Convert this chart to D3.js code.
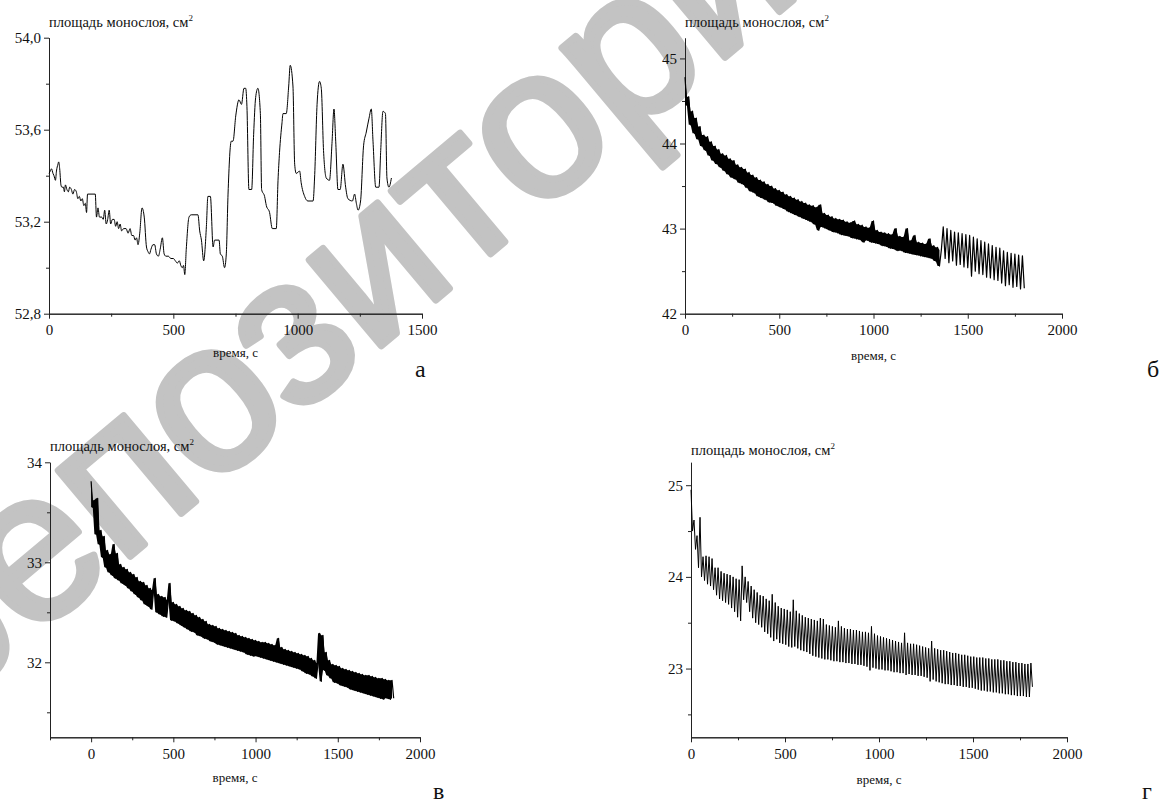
<!DOCTYPE html>
<html>
<head>
<meta charset="utf-8">
<script src="https://cdn.jsdelivr.net/npm/d3@7"></script>
<style>
body { margin: 0; background: #fff; }
svg text { font-family: "Liberation Serif", "Times New Roman", serif; fill: #111; }
</style>
</head>
<body>
<div id="chart"></div>
<script>
// ---- data ----

// panel а : irregular samples (time, s / area, cm2)
var aTime = [0,5,10,16,20,26,30,36,39,43,
  48,52,58,62,66,72,78,83,90,96,
  103,110,116,122,128,134,140,146,151,155,
  186,191,197,203,212,218,224,230,236,242,
  248,255,262,268,274,280,286,292,300,310,
  318,326,333,340,346,352,358,365,374,383,
  392,398,404,410,418,425,432,440,447,456,
  463,470,480,490,500,508,516,524,530,536,
  541,546,552,563,572,599,606,613,622,633,
  639,649,660,666,684,689,697,706,713,720,
  733,740,751,764,774,784,791,796,804,815,
  823,831,840,850,855,867,874,887,898,914,
  921,927,937,941,954,964,970,981,988,994,
  1008,1014,1028,1041,1062,1068,1078,1088,1095,1104,
  1115,1128,1138,1146,1153,1162,1171,1182,1193,1202,
  1220,1229,1236,1243,1253,1265,1276,1287,1296,1303,
  1314,1327,1334,1343,1353,1359,1367,1377];
var aArea = [53.41,53.42,53.43,53.41,53.40,53.38,53.42,53.45,53.46,53.43,
  53.36,53.35,53.35,53.33,53.36,53.34,53.33,53.35,53.34,53.32,
  53.34,53.33,53.30,53.31,53.29,53.30,53.27,53.28,53.24,53.32,
  53.32,53.22,53.26,53.22,53.22,53.21,53.25,53.19,53.21,53.25,
  53.19,53.21,53.21,53.18,53.20,53.17,53.19,53.16,53.17,53.17,
  53.15,53.17,53.14,53.14,53.12,53.13,53.10,53.15,53.26,53.22,
  53.09,53.07,53.06,53.08,53.10,53.10,53.06,53.05,53.08,53.13,
  53.06,53.05,53.05,53.04,53.04,53.03,53.02,53.03,53.01,53.00,
  53.01,52.97,53.08,53.22,53.23,53.23,53.16,53.12,53.03,53.18,
  53.31,53.31,53.09,53.12,53.12,53.06,53.05,53.00,53.06,53.32,
  53.55,53.55,53.66,53.73,53.71,53.78,53.78,53.70,53.34,53.34,
  53.58,53.74,53.78,53.67,53.34,53.31,53.27,53.24,53.17,53.17,
  53.38,53.50,53.63,53.67,53.67,53.79,53.88,53.79,53.45,53.41,
  53.42,53.37,53.31,53.29,53.29,53.39,53.71,53.81,53.78,53.51,
  53.39,53.38,53.54,53.69,53.55,53.34,53.34,53.45,53.35,53.30,
  53.29,53.32,53.28,53.25,53.29,53.53,53.59,53.65,53.69,53.55,
  53.35,53.35,53.51,53.68,53.67,53.39,53.35,53.39];

// panel б : recorder samples every 10 s
var bStep = 10;
var bArea = [44.78,44.45,44.55,44.22,44.38,44.12,44.30,44.05,44.20,43.97,
  44.10,43.92,44.08,43.86,44.02,43.80,43.97,43.76,43.93,43.72,
  43.88,43.68,43.86,43.64,43.82,43.60,43.80,43.58,43.75,43.54,
  43.72,43.52,43.70,43.48,43.66,43.44,43.63,43.42,43.60,43.38,
  43.57,43.36,43.55,43.34,43.52,43.31,43.50,43.30,43.47,43.27,
  43.45,43.25,43.43,43.23,43.40,43.20,43.38,43.18,43.36,43.16,
  43.34,43.14,43.32,43.12,43.30,43.10,43.28,43.08,43.27,43.05,
  43.25,42.98,43.28,43.02,43.18,43.00,43.16,42.98,43.14,42.96,
  43.12,42.95,43.11,42.93,43.10,42.92,43.08,42.91,43.07,42.89,
  43.09,42.88,43.05,42.87,43.04,42.84,43.02,42.86,43.01,42.84,
  43.09,42.83,42.98,42.82,42.96,42.80,42.95,42.79,42.94,42.77,
  42.93,42.76,43.00,42.74,42.91,42.74,42.90,42.72,43.00,42.71,
  42.86,42.70,42.92,42.69,42.84,42.68,42.83,42.67,42.82,42.66,
  42.88,42.65,42.80,42.62,42.78,42.56,42.75,43.02,42.65,43.00,
  42.60,42.98,42.62,42.96,42.57,42.95,42.58,42.94,42.55,42.93,
  42.54,42.92,42.44,42.90,42.50,42.88,42.47,42.86,42.46,42.84,
  42.43,42.82,42.42,42.80,42.40,42.78,42.39,42.77,42.36,42.74,
  42.33,42.72,42.34,42.71,42.31,42.70,42.32,42.69,42.29,42.68,
  42.30];

// panel в : recorder samples every 10 s
var vStep = 10;
var vArea = [33.81,33.55,33.62,33.28,33.64,33.18,33.32,33.05,33.26,32.95,
  33.12,32.90,33.08,32.87,33.18,32.84,33.09,32.82,32.98,32.79,
  32.95,32.77,32.93,32.74,32.90,32.71,32.88,32.68,32.85,32.65,
  32.81,32.62,32.80,32.58,32.77,32.56,32.74,32.53,32.72,32.84,
  32.50,32.68,32.48,32.66,32.46,32.65,32.45,32.62,32.79,32.42,
  32.60,32.41,32.58,32.39,32.56,32.37,32.54,32.35,32.52,32.33,
  32.51,32.31,32.49,32.30,32.47,32.27,32.45,32.26,32.43,32.24,
  32.41,32.23,32.38,32.21,32.37,32.20,32.36,32.18,32.34,32.17,
  32.33,32.16,32.32,32.15,32.31,32.14,32.30,32.13,32.29,32.12,
  32.27,32.11,32.26,32.10,32.25,32.08,32.24,32.07,32.23,32.06,
  32.22,32.06,32.21,32.05,32.20,32.04,32.20,32.03,32.19,32.02,
  32.18,32.01,32.17,32.00,32.24,31.99,32.15,31.98,32.13,31.97,
  32.12,31.96,32.11,31.95,32.10,31.94,32.09,31.93,32.08,31.91,
  32.07,31.89,32.06,31.88,32.04,31.86,32.02,31.84,31.99,32.29,
  31.81,32.27,31.92,32.10,31.87,32.02,31.84,31.98,31.80,31.97,
  31.79,31.96,31.77,31.94,31.76,31.93,31.75,31.92,31.73,31.91,
  31.72,31.90,31.71,31.89,31.70,31.88,31.69,31.87,31.68,31.87,
  31.67,31.86,31.66,31.85,31.65,31.84,31.64,31.84,31.63,31.83,
  31.64,31.82,31.63,31.82,31.64];

// panel г : recorder samples every 8 s
var gStep = 8;
var gArea = [24.95,24.50,24.62,24.30,24.45,24.10,24.65,24.00,24.22,23.96,
  24.23,23.92,24.22,23.90,24.20,23.86,24.10,23.80,24.10,23.76,
  24.06,23.74,24.04,23.72,24.03,23.70,24.02,23.66,24.00,23.62,
  23.98,23.56,23.97,23.52,24.12,23.75,24.00,23.72,23.95,23.62,
  23.90,23.55,23.86,23.50,23.83,23.48,23.80,23.45,23.79,23.40,
  23.76,23.38,23.74,23.34,23.81,23.30,23.72,23.32,23.68,23.28,
  23.66,23.27,23.65,23.26,23.64,23.24,23.62,23.23,23.75,23.24,
  23.63,23.22,23.60,23.20,23.58,23.19,23.56,23.18,23.55,23.16,
  23.54,23.14,23.53,23.13,23.52,23.12,23.55,23.11,23.54,23.10,
  23.48,23.10,23.47,23.09,23.46,23.08,23.45,23.08,23.52,23.07,
  23.46,23.07,23.44,23.06,23.43,23.06,23.43,23.05,23.42,23.05,
  23.42,23.04,23.41,23.04,23.40,23.03,23.40,23.02,23.39,22.98,
  23.46,23.01,23.38,23.00,23.36,22.99,23.35,22.99,23.34,22.98,
  23.33,22.98,23.32,22.97,23.31,22.96,23.30,22.96,23.29,22.95,
  23.28,22.95,23.39,22.93,23.28,22.94,23.27,22.93,23.27,22.93,
  23.26,22.92,23.25,22.92,23.24,22.91,23.23,22.90,23.22,22.86,
  23.30,22.88,23.22,22.86,23.21,22.85,23.20,22.84,23.20,22.83,
  23.19,22.83,23.18,22.82,23.17,22.82,23.17,22.81,23.16,22.81,
  23.15,22.80,23.15,22.80,23.14,22.79,23.13,22.79,23.13,22.78,
  23.12,22.77,23.12,22.76,23.12,22.76,23.11,22.75,23.11,22.75,
  23.10,22.74,23.10,22.74,23.10,22.73,23.09,22.73,23.09,22.72,
  23.08,22.72,23.08,22.71,23.07,22.71,23.07,22.70,23.06,22.70,
  23.06,22.70,23.05,22.69,23.05,22.69,23.06,22.80];

// tick values
var ticksA = {xMajor: [0, 500, 1000, 1500], xMinor: [250, 750, 1250],
  yMajor: [52.8, 53.2, 53.6, 54.0], yMinor: [53.0, 53.4, 53.8]};
var ticksB = {xMajor: [0, 500, 1000, 1500, 2000], xMinor: [250, 750, 1250, 1750],
  yMajor: [42, 43, 44, 45], yMinor: [42.5, 43.5, 44.5]};
var ticksV = {xMajor: [0, 500, 1000, 1500, 2000], xMinor: [-250, 250, 750, 1250, 1750],
  yMajor: [32, 33, 34], yMinor: [31.5, 32.5, 33.5]};
var ticksG = {xMajor: [0, 500, 1000, 1500, 2000], xMinor: [250, 750, 1250, 1750],
  yMajor: [23, 24, 25], yMinor: [22.5, 23.5, 24.5]};

var yTitle = "площадь монослоя, см";
var xTitle = "время, с";

function toPoints(vals, step) {
  return vals.map(function(v, i) { return [i * step, v]; });
}

// neighbouring samples give the envelope of the fast oscillation
function toBand(vals, step, until) {
  var out = [];
  for (var i = 0; i < vals.length - 1; i++) {
    if (i * step > until) break;
    out.push([i * step, Math.min(vals[i], vals[i + 1]), Math.max(vals[i], vals[i + 1])]);
  }
  return out;
}

var panels = [
  {letter: "а", pts: aTime.map(function(t, i) { return [t, aArea[i]]; }), band: null,
   curve: d3.curveMonotoneX, width: 1,
   ticks: ticksA, xDomain: [0, 1500], yDomain: [52.8, 54.0], left: 49, right: 422, top: 37.7, bottom: 313.7,
   yFmt: function(d) { return d3.format(".1f")(d).replace(".", ","); },
   titleY: 27, xTitleY: 357, letterX: 415, letterY: 377},
  {letter: "б", pts: toPoints(bArea, bStep), band: toBand(bArea, bStep, 1350),
   curve: d3.curveLinear, width: 1.2,
   ticks: ticksB, xDomain: [0, 2000], yDomain: [42, 45.24], left: 685, right: 1062, top: 38, bottom: 313.7,
   yFmt: d3.format("d"), titleY: 27, xTitleY: 360, letterX: 1147, letterY: 377},
  {letter: "в", pts: toPoints(vArea, vStep), band: toBand(vArea, vStep, 1840),
   curve: d3.curveLinear, width: 1.2,
   ticks: ticksV, xDomain: [-250, 2000], yDomain: [31.25, 34], left: 50, right: 420, top: 462.3, bottom: 737.3,
   yFmt: d3.format("d"), titleY: 451, xTitleY: 782, letterX: 433, letterY: 799},
  {letter: "г", pts: toPoints(gArea, gStep), band: null,
   curve: d3.curveLinear, width: 1,
   ticks: ticksG, xDomain: [0, 2000], yDomain: [22.25, 25.25], left: 691, right: 1067, top: 462.3, bottom: 737.3,
   yFmt: d3.format("d"), titleY: 455, xTitleY: 784, letterX: 1142, letterY: 799}
];

var svg = d3.select("#chart").append("svg")
    .attr("width", 1163)
    .attr("height", 804);

// grey watermark sits under the plots
svg.append("text")
    .attr("transform", "translate(380,272) rotate(-40)")
    .attr("text-anchor", "middle")
    .attr("dy", "0.27em")
    .style("font-family", "'Liberation Sans', Arial, sans-serif")
    .style("font-size", "212px")
    .style("fill", "#c3c3c3")
    .style("stroke", "#c3c3c3")
    .style("stroke-width", 7)
    .style("stroke-linejoin", "round")
    .text("репозиторий");

function styleAxis(sel) {
  sel.select(".domain").attr("stroke", "#222").attr("stroke-width", 1);
  sel.selectAll(".tick line").attr("stroke", "#222");
  sel.selectAll("text")
      .style("font-family", "'Liberation Serif', 'Times New Roman', serif")
      .style("font-size", "15px")
      .style("fill", "#111");
}

panels.forEach(function(p) {
  var x = d3.scaleLinear().domain(p.xDomain).range([p.left, p.right]);
  var y = d3.scaleLinear().domain(p.yDomain).range([p.bottom, p.top]);
  var g = svg.append("g");

  g.append("g")
      .attr("transform", "translate(0," + p.bottom + ")")
      .call(d3.axisBottom(x).tickValues(p.ticks.xMinor).tickSize(3).tickSizeOuter(0).tickFormat(""))
      .call(styleAxis);
  g.append("g")
      .attr("transform", "translate(0," + p.bottom + ")")
      .call(d3.axisBottom(x).tickValues(p.ticks.xMajor).tickSize(5).tickSizeOuter(0).tickPadding(6).tickFormat(d3.format("d")))
      .call(styleAxis);
  g.append("g")
      .attr("transform", "translate(" + p.left + ",0)")
      .call(d3.axisLeft(y).tickValues(p.ticks.yMinor).tickSize(3).tickSizeOuter(0).tickFormat(""))
      .call(styleAxis);
  g.append("g")
      .attr("transform", "translate(" + p.left + ",0)")
      .call(d3.axisLeft(y).tickValues(p.ticks.yMajor).tickSize(5).tickSizeOuter(0).tickPadding(3).tickFormat(p.yFmt))
      .call(styleAxis);

  if (p.band) {
    var area = d3.area()
        .x(function(d) { return x(d[0]); })
        .y0(function(d) { return y(d[1]); })
        .y1(function(d) { return y(d[2]); });
    g.append("path")
        .datum(p.band)
        .attr("fill", "#000")
        .attr("d", area);
  }

  var line = d3.line()
      .curve(p.curve)
      .x(function(d) { return x(d[0]); })
      .y(function(d) { return y(d[1]); });

  g.append("path")
      .datum(p.pts)
      .attr("fill", "none")
      .attr("stroke", "#000")
      .attr("stroke-width", p.width)
      .attr("stroke-linejoin", "round")
      .attr("d", line);

  var t = g.append("text")
      .attr("x", p.left)
      .attr("y", p.titleY)
      .style("font-size", "14.5px");
  t.append("tspan").text(yTitle);
  t.append("tspan").attr("dy", -6).style("font-size", "9px").text("2");

  g.append("text")
      .attr("x", (p.left + p.right) / 2)
      .attr("y", p.xTitleY)
      .attr("text-anchor", "middle")
      .style("font-size", "13px")
      .text(xTitle);

  g.append("text")
      .attr("x", p.letterX)
      .attr("y", p.letterY)
      .style("font-size", "24px")
      .text(p.letter);
});
</script>
</body>
</html>
